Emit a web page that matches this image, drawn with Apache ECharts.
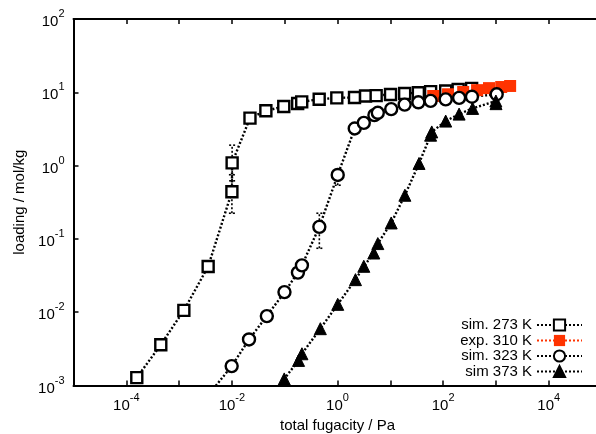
<!DOCTYPE html>
<html>
<head>
<meta charset="utf-8">
<script src="https://cdn.jsdelivr.net/npm/echarts@6/dist/echarts.min.js"></script>
<style>
  html, body { margin: 0; padding: 0; background: #fff; }
  #chart { width: 596px; height: 434px; }
</style>
</head>
<body>
<div id="chart"></div>
<script>
// Adsorption isotherms: loading versus total fugacity (log-log)

// sim. 273 K
const fugacity273 = [1.58e-4, 4.5e-4, 1.23e-3, 3.55e-3, 0.0100, 0.0101, 0.022, 0.044, 0.096, 0.176, 0.21, 0.45, 0.97, 2.1, 3.4, 5.4, 10.1, 18.7, 34, 58, 112, 193, 347];
const loading273  = [1.28e-3, 3.6e-3, 1.06e-2, 0.042, 0.44, 1.09, 4.45, 5.6, 6.4, 7.05, 7.4, 8.05, 8.4, 8.5, 8.9, 9.0, 9.35, 9.65, 9.85, 10.2, 10.4, 10.9, 11.3];

// exp. 310 K
const fugacity310 = [65, 124, 240, 440, 740, 1260, 1860];
const loading310  = [8.9, 9.4, 10.1, 10.7, 11.4, 11.8, 12.2];

// sim. 323 K
const fugacity323 = [0.0032, 0.0099, 0.0211, 0.0459, 0.099, 0.178, 0.212, 0.453, 1.01, 2.12, 3.15, 5.0, 5.8, 10.4, 18.7, 34, 58, 112, 201, 352, 1035];
const loading323  = [6.7e-4, 1.84e-3, 4.25e-3, 8.85e-3, 0.0188, 0.0347, 0.0436, 0.146, 0.746, 3.21, 3.83, 4.88, 5.25, 5.9, 6.8, 7.3, 7.65, 8.0, 8.4, 8.7, 9.4];

// sim 373 K
const fugacity373 = [0.063, 0.098, 0.183, 0.212, 0.473, 1.01, 2.19, 3.15, 4.87, 5.8, 10.4, 18.9, 35, 58, 61, 112, 201, 362, 1000, 1005];
const loading373  = [7.0e-4, 1.23e-3, 2.2e-3, 2.71e-3, 5.96e-3, 0.0128, 0.0278, 0.0423, 0.0642, 0.0863, 0.165, 0.394, 1.07, 2.6, 2.88, 4.05, 5.04, 6.03, 7.6, 7.0];

// error bars: fugacity, lower and upper loading
const errFugacity = [0.0100, 0.0101, 0.453, 1.01];
const errLow      = [0.224, 0.62, 0.0745, 0.54];
const errHigh     = [0.75, 1.9, 0.224, 0.865];

const seriesNames = ['sim. 273 K', 'exp. 310 K', 'sim. 323 K', 'sim 373 K'];

const FONT = 'Liberation Sans';
const RED = '#ff3300';

function pairs(xs, ys) { return xs.map((x, i) => [x, ys[i]]); }

function powerLabel(value) {
  const e = Math.round(Math.log10(value));
  return '{b|10}{s|' + e + '}';
}
const powerRich = {
  b: { fontSize: 15, fontFamily: FONT, color: '#000', lineHeight: 16, padding: [6, 0, 0, 0] },
  s: { fontSize: 11, fontFamily: FONT, color: '#000', lineHeight: 12, padding: [0, 0, 10, 0] }
};

const dotted = [2, 2];

function lineSeries(name, xs, ys, symbol, size, itemStyle, color) {
  return {
    name: name,
    type: 'line',
    data: pairs(xs, ys),
    symbol: symbol,
    symbolSize: size,
    showAllSymbol: true,
    clip: true,
    lineStyle: { color: color, width: 2.4, type: dotted },
    itemStyle: itemStyle,
    emphasis: { disabled: true }
  };
}

function renderErrorBar(params, api) {
  const x = api.value(0);
  const lo = api.coord([x, api.value(1)]);
  const hi = api.coord([x, api.value(2)]);
  const cap = 3;
  const st = { stroke: '#000', lineWidth: 1.6, lineDash: [2, 2] };
  return {
    type: 'group',
    children: [
      { type: 'line', shape: { x1: lo[0], y1: lo[1], x2: hi[0], y2: hi[1] }, style: st },
      { type: 'line', shape: { x1: lo[0] - cap, y1: lo[1], x2: lo[0] + cap, y2: lo[1] }, style: st },
      { type: 'line', shape: { x1: hi[0] - cap, y1: hi[1], x2: hi[0] + cap, y2: hi[1] }, style: st }
    ]
  };
}

const axisLineStyle = { show: true, onZero: false, lineStyle: { color: '#000', width: 2 } };
const axisTickStyle = { show: true, inside: true, length: 5, lineStyle: { color: '#000', width: 1.5 } };

const chart = echarts.init(document.getElementById('chart'), null, { renderer: 'canvas' });

chart.setOption({
  animation: false,
  backgroundColor: '#fff',
  textStyle: { fontFamily: FONT, color: '#000' },
  grid: { left: 73.5, right: -5.5, top: 19, bottom: 48.5, containLabel: false, outerBoundsMode: 'none' },
  xAxis: [
    {
      type: 'log',
      logBase: 10,
      min: 1e-5,
      max: 1e5,
      interval: 1,
      position: 'bottom',
      name: 'total fugacity / Pa',
      nameLocation: 'middle',
      nameGap: 32,
      nameTextStyle: { fontSize: 15, fontFamily: FONT, color: '#000' },
      axisLine: axisLineStyle,
      axisTick: axisTickStyle,
      axisLabel: {
        margin: 9,
        interval: 0,
        formatter: function (v) {
          const e = Math.round(Math.log10(v));
          return e % 2 === 0 ? powerLabel(v) : '';
        },
        rich: powerRich
      },
      splitLine: { show: false }
    },
    {
      type: 'log',
      logBase: 10,
      min: 1e-5,
      max: 1e5,
      interval: 1,
      position: 'top',
      axisLine: axisLineStyle,
      axisTick: axisTickStyle,
      axisLabel: { show: false },
      splitLine: { show: false }
    }
  ],
  yAxis: {
    type: 'log',
    logBase: 10,
    min: 1e-3,
    max: 1e2,
    interval: 1,
    name: 'loading / mol/kg',
    nameLocation: 'middle',
    nameGap: 45,
    nameTextStyle: { fontSize: 15, fontFamily: FONT, color: '#000' },
    axisLine: axisLineStyle,
    axisTick: axisTickStyle,
    axisLabel: { margin: 9, interval: 0, formatter: powerLabel, rich: powerRich },
    splitLine: { show: false }
  },
  legend: {
    data: seriesNames,
    orient: 'vertical',
    align: 'right',
    right: 13,
    top: 317.5,
    padding: 0,
    itemWidth: 45,
    itemHeight: 14,
    itemGap: 0.5,
    selectedMode: false,
    textStyle: { fontSize: 15, lineHeight: 15, fontFamily: FONT, color: '#000' }
  },
  series: [
    {
      name: 'error bars',
      type: 'custom',
      renderItem: renderErrorBar,
      data: errFugacity.map((x, i) => [x, errLow[i], errHigh[i]]),
      encode: { x: 0, y: [1, 2] },
      z: 1,
      silent: true
    },
    lineSeries(seriesNames[0], fugacity273, loading273, 'rect', 11,
      { color: '#fff', borderColor: '#000', borderWidth: 2.4 }, '#000'),
    lineSeries(seriesNames[1], fugacity310, loading310, 'rect', 12,
      { color: RED, borderColor: RED, borderWidth: 0 }, RED),
    lineSeries(seriesNames[2], fugacity323, loading323, 'circle', 12,
      { color: '#fff', borderColor: '#000', borderWidth: 2.4 }, '#000'),
    lineSeries(seriesNames[3], fugacity373, loading373, 'triangle', 12,
      { color: '#000', borderColor: '#000', borderWidth: 1 }, '#000')
  ]
});
</script>
</body>
</html>
